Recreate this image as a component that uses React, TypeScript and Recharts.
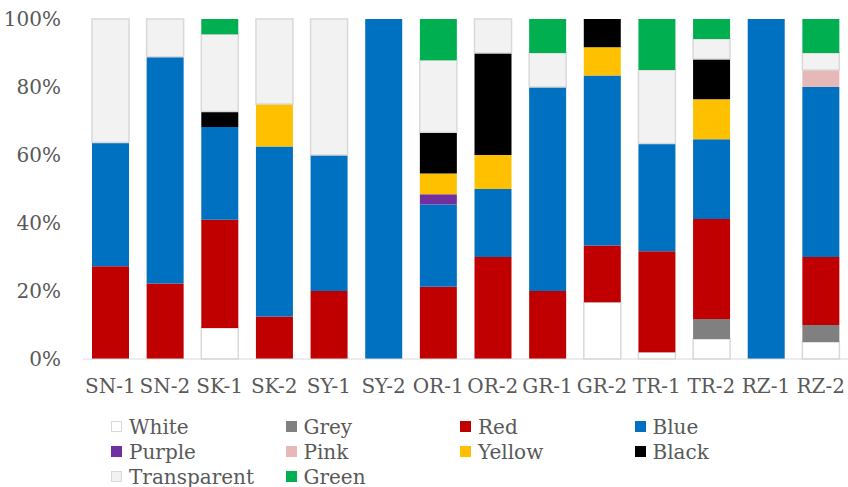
import { BarChart, Bar, XAxis, YAxis, Legend } from "recharts"

const categories = ["SN-1", "SN-2", "SK-1", "SK-2", "SY-1", "SY-2", "OR-1", "OR-2", "GR-1", "GR-2", "TR-1", "TR-2", "RZ-1", "RZ-2"]

const white = [0, 0, 9.1, 0, 0, 0, 0, 0, 0, 16.7, 2.0, 5.9, 0, 5]
const grey = [0, 0, 0, 0, 0, 0, 0, 0, 0, 0, 0, 5.9, 0, 5]
const red = [27.3, 22.2, 31.8, 12.5, 20, 0, 21.2, 30, 20, 16.7, 29.7, 29.4, 0, 20]
const blue = [36.4, 66.7, 27.3, 50, 40, 100, 24.2, 20, 60, 50, 31.7, 23.5, 100, 50]
const purple = [0, 0, 0, 0, 0, 0, 3.0, 0, 0, 0, 0, 0, 0, 0]
const pink = [0, 0, 0, 0, 0, 0, 0, 0, 0, 0, 0, 0, 0, 5]
const yellow = [0, 0, 0, 12.5, 0, 0, 6.1, 10, 0, 8.3, 0, 11.8, 0, 0]
const black = [0, 0, 4.5, 0, 0, 0, 12.1, 30, 0, 8.3, 0, 11.8, 0, 0]
const transparent = [36.3, 11.1, 22.7, 25, 40, 0, 21.2, 10, 10, 0, 21.6, 5.9, 0, 5]
const green = [0, 0, 4.5, 0, 0, 0, 12.1, 0, 10, 0, 15, 5.9, 0, 10]

const yTicks = [0, 0.2, 0.4, 0.6, 0.8, 1]

const series = [
  { key: "White", values: white, fill: "#FFFFFF", stroke: "#D9D9D9" },
  { key: "Grey", values: grey, fill: "#808080" },
  { key: "Red", values: red, fill: "#C00000" },
  { key: "Blue", values: blue, fill: "#0070C0" },
  { key: "Purple", values: purple, fill: "#7030A0" },
  { key: "Pink", values: pink, fill: "#E6B9B8" },
  { key: "Yellow", values: yellow, fill: "#FFC000" },
  { key: "Black", values: black, fill: "#000000" },
  { key: "Transparent", values: transparent, fill: "#F2F2F2", stroke: "#D9D9D9" },
  { key: "Green", values: green, fill: "#00B050" },
]

const data = categories.map((name, i) => {
  const row: Record<string, string | number> = { name }
  series.forEach((s) => {
    row[s.key] = s.values[i]
  })
  return row
})

const font = "'DejaVu Serif', serif"

const renderLegend = () => (
  <div
    style={{
      display: "grid",
      gridTemplateColumns: "repeat(4, 174.5px)",
      paddingLeft: 111,
      height: 75,
      fontFamily: font,
      fontSize: 20,
      color: "#595959",
    }}
  >
    {series.map((s) => (
      <div key={s.key} style={{ display: "flex", alignItems: "center", height: 25, whiteSpace: "nowrap" }}>
        <span
          style={{
            display: "inline-block",
            width: s.stroke ? 9 : 11,
            height: s.stroke ? 9 : 11,
            background: s.fill,
            border: s.stroke ? `1px solid ${s.stroke}` : "none",
            marginRight: 7,
          }}
        />
        {s.key}
      </div>
    ))}
  </div>
)

export default function App() {
  return (
    <div style={{ position: "absolute", left: 0, top: 0, width: 848, height: 487, background: "#fff", fontFamily: font }}>
      <BarChart
        width={848}
        height={487}
        data={data}
        stackOffset="expand"
        margin={{ top: 19, right: 0, left: 0, bottom: 0 }}
      >
        <XAxis
          dataKey="name"
          tickLine={false}
          axisLine={{ stroke: "#D9D9D9", strokeWidth: 1 }}
          tick={{ fill: "#595959", fontSize: 20, fontFamily: font }}
          tickMargin={14}
          height={53}
          interval={0}
        />
        <YAxis
          width={83}
          domain={[0, 1]}
          ticks={yTicks}
          tickFormatter={(v: number) => `${Math.round(v * 100)}%`}
          tickLine={false}
          axisLine={false}
          tick={{ fill: "#595959", fontSize: 20, fontFamily: font }}
          tickMargin={16}
        />
        <Legend verticalAlign="bottom" content={renderLegend} wrapperStyle={{ left: 0, top: 414, width: 848 }} />
        {series.map((s) => (
          <Bar
            key={s.key}
            dataKey={s.key}
            stackId="a"
            fill={s.fill}
            stroke={s.stroke}
            strokeWidth={s.stroke ? 1.5 : 0}
            barSize={37}
            isAnimationActive={false}
          />
        ))}
      </BarChart>
    </div>
  )
}
